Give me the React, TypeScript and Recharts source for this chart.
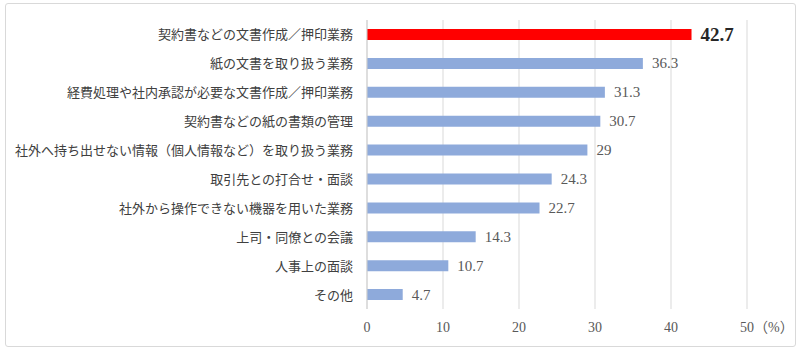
import React from 'react';
import { BarChart, Bar, XAxis, YAxis, CartesianGrid, Cell, LabelList } from 'recharts';

const categories = [
  '契約書などの文書作成／押印業務',
  '紙の文書を取り扱う業務',
  '経費処理や社内承認が必要な文書作成／押印業務',
  '契約書などの紙の書類の管理',
  '社外へ持ち出せない情報（個人情報など）を取り扱う業務',
  '取引先との打合せ・面談',
  '社外から操作できない機器を用いた業務',
  '上司・同僚との会議',
  '人事上の面談',
  'その他',
];
const values = [42.7, 36.3, 31.3, 30.7, 29, 24.3, 22.7, 14.3, 10.7, 4.7];
const highlighted = [true, false, false, false, false, false, false, false, false, false];
const xTicks = [0, 10, 20, 30, 40, 50];
const unitLabel = '（%）';

const data = categories.map((name, i) => ({ name, value: values[i], hl: highlighted[i] }));

const SERIF = "'Liberation Serif', 'Noto Sans CJK JP', serif";

const XTick = (props: any) => {
  const { x, y, payload } = props;
  const isLast = payload.value === xTicks[xTicks.length - 1];
  if (isLast) {
    return (
      <text x={x - 7} y={y} dy={15} textAnchor="start" fill="#595959" fontSize={14} fontFamily={SERIF}>
        {`${payload.value}${unitLabel}`}
      </text>
    );
  }
  return (
    <text x={x} y={y} dy={15} textAnchor="middle" fill="#595959" fontSize={14} fontFamily={SERIF}>
      {payload.value}
    </text>
  );
};

const YTick = (props: any) => {
  const { x, y, payload } = props;
  return (
    <text x={x} y={y} dy={5} textAnchor="end" fill="#404040" fontSize={13} fontFamily={SERIF}>
      {payload.value}
    </text>
  );
};

const ValueLabel = (props: any) => {
  const { x, y, width, height, index } = props;
  const hl = highlighted[index];
  const v = values[index];
  return (
    <text
      x={x + width + 9}
      y={y + height / 2}
      dy={hl ? 6 : 5}
      textAnchor="start"
      fill={hl ? '#262626' : '#595959'}
      fontSize={hl ? 19 : 15}
      fontWeight={hl ? 'bold' : 'normal'}
      fontFamily={SERIF}
    >
      {v}
    </text>
  );
};

export default function App() {
  return (
    <div style={{ position: 'absolute', left: 0, top: 0, width: 800, height: 351, background: '#fff' }}>
      <div
        style={{
          position: 'absolute',
          left: 5,
          top: 3,
          width: 789,
          height: 342,
          border: '1px solid #d9d9d9',
          borderRadius: 3,
        }}
      />
      <div style={{ position: 'absolute', left: 0, top: 0 }}>
        <BarChart
          width={800}
          height={351}
          data={data}
          layout="vertical"
          margin={{ top: 20, right: 53, bottom: 12, left: 0 }}
        >
          <CartesianGrid horizontal={false} vertical stroke="#d9d9d9" />
          <XAxis
            type="number"
            domain={[0, 50]}
            ticks={xTicks}
            axisLine={false}
            tickLine={false}
            height={30}
            tick={<XTick />}
            interval={0}
          />
          <YAxis
            type="category"
            dataKey="name"
            width={367}
            axisLine={{ stroke: '#d0d0d0' }}
            tickLine={false}
            tickMargin={8}
            tick={<YTick />}
            interval={0}
          />
          <Bar dataKey="value" barSize={11} isAnimationActive={false}>
            {data.map((d, i) => (
              <Cell key={i} fill={d.hl ? '#ff0000' : '#8eaadb'} />
            ))}
            <LabelList dataKey="value" content={<ValueLabel />} />
          </Bar>
        </BarChart>
      </div>
    </div>
  );
}
